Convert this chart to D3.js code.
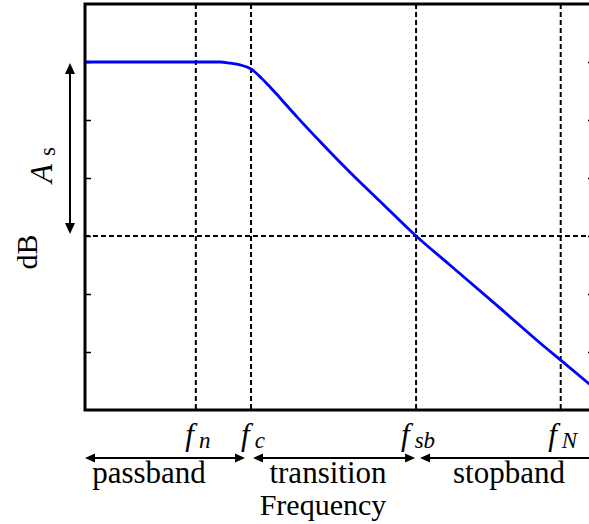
<!DOCTYPE html>
<html>
<head>
<meta charset="utf-8">
<script src="https://cdn.jsdelivr.net/npm/d3@7"></script>
<style>
  html, body { margin: 0; padding: 0; background: #fff; }
  svg { display: block; }
</style>
</head>
<body>
<script>
// Low-pass filter magnitude response (dB) against frequency
const curveFreq = [0, 1, 2, 2.84, 3.05, 3.26, 3.49, 3.70, 3.89, 4.10, 4.46, 4.94, 5.57, 6.20, 6.96, 7.67, 8.72, 9.56, 10.0, 10.57, 10.7];
const curveDb   = [-10, -10, -10, -10, -10.2, -10.5, -11.2, -12.7, -14.3, -16.2, -19.5, -23.7, -29.0, -34.0, -40.0, -45.0, -52.4, -58.4, -61.4, -65.3, -66.2];

// Marked frequencies and their subscripts
const markFreq = [2.33, 3.49, 6.96, 10.0];
const markSub  = ["n", "c", "sb", "N"];

// Levels
const passLevel = -10;
const stopLevel = -40;
const yTicks = [-10, -20, -30, -40, -50, -60];

// Frequency bands
const bandNames = ["passband", "transition", "stopband"];
const bandEdges = [0, 3.49, 6.96, 10.7];

const W = 589, H = 524;
const serif = '"Liberation Serif", "Times New Roman", serif';
const svg = d3.select("body").append("svg")
  .attr("width", W).attr("height", H)
  .style("font-family", serif);

const x = d3.scaleLinear().domain([0, 10.7]).range([85, 594]);
const y = d3.scaleLinear().domain([-70, 0]).range([410, 4]);

// Tick marks on both vertical sides, pointing inward, no labels
svg.append("g").attr("transform", `translate(${x(0)},0)`)
  .call(d3.axisLeft(y).tickValues(yTicks).tickSize(-6).tickFormat(""))
  .call(g => g.select(".domain").remove())
  .call(g => g.selectAll("line").attr("stroke", "#000").attr("stroke-width", 1.5));
svg.append("g").attr("transform", `translate(${x(10.7)},0)`)
  .call(d3.axisRight(y).tickValues(yTicks).tickSize(-6).tickFormat(""))
  .call(g => g.select(".domain").remove())
  .call(g => g.selectAll("line").attr("stroke", "#000").attr("stroke-width", 1.5));

// Dashed guides
const dash = "5,3";
svg.append("g").selectAll("line").data(markFreq).join("line")
  .attr("x1", d => x(d)).attr("x2", d => x(d))
  .attr("y1", y(0)).attr("y2", y(-70))
  .attr("stroke", "#000").attr("stroke-width", 2).attr("stroke-dasharray", dash);
svg.append("line")
  .attr("x1", x(0)).attr("x2", x(10.7))
  .attr("y1", y(stopLevel)).attr("y2", y(stopLevel))
  .attr("stroke", "#000").attr("stroke-width", 2).attr("stroke-dasharray", dash);

// Response curve
const pts = curveFreq.map((f, i) => [f, curveDb[i]]);
svg.append("path").datum(pts)
  .attr("d", d3.line().x(d => x(d[0])).y(d => y(d[1])).curve(d3.curveMonotoneX))
  .attr("fill", "none").attr("stroke", "#0000ff").attr("stroke-width", 2.8)
  .attr("stroke-linejoin", "round");

// Frame (right edge sits just past the visible area)
svg.append("rect")
  .attr("x", x(0)).attr("y", y(0))
  .attr("width", x(10.7) - x(0)).attr("height", y(-70) - y(0))
  .attr("fill", "none").attr("stroke", "#000").attr("stroke-width", 3);

// Double-headed arrow helper
function arrow(g, x1, y1, x2, y2, head = 10, half = 4.5) {
  const ang = Math.atan2(y2 - y1, x2 - x1);
  const cos = Math.cos(ang), sin = Math.sin(ang);
  g.append("line")
    .attr("x1", x1 + cos * head * 0.8).attr("y1", y1 + sin * head * 0.8)
    .attr("x2", x2 - cos * head * 0.8).attr("y2", y2 - sin * head * 0.8)
    .attr("stroke", "#000").attr("stroke-width", 2);
  const tri = (tx, ty, dir) => {
    const bx = tx - dir * cos * head, by = ty - dir * sin * head;
    return [[tx, ty], [bx - sin * half, by + cos * half], [bx + sin * half, by - cos * half]];
  };
  g.append("polygon").attr("points", tri(x2, y2, 1).join(" ")).attr("fill", "#000");
  g.append("polygon").attr("points", tri(x1, y1, -1).join(" ")).attr("fill", "#000");
}

// A_s span arrow on the left
const arrows = svg.append("g");
arrow(arrows, 70, y(passLevel) + 1, 70, y(stopLevel) - 2, 11, 5);

// Band arrows under the axis
const bandY = 458;
const bandStartPad = [0, 2, 4];
const bandEndPad = [6, 1, -10];
bandNames.forEach((b, i) => {
  arrow(arrows, x(bandEdges[i]) + bandStartPad[i], bandY, x(bandEdges[i + 1]) - bandEndPad[i], bandY, 10, 4.5);
});

// Band names
const bandLabelX = [149, 328, 509];
svg.append("g").selectAll("text").data(bandNames).join("text")
  .attr("x", (d, i) => bandLabelX[i]).attr("y", 483)
  .attr("text-anchor", "middle").attr("font-size", 31)
  .text(d => d);
svg.append("text").attr("x", 323).attr("y", 515)
  .attr("text-anchor", "middle").attr("font-size", 30).text("Frequency");

// Frequency marker labels: italic f with italic subscript
const fl = svg.append("g").selectAll("text").data(markFreq).join("text")
  .attr("x", d => x(d) + 2).attr("y", 445)
  .attr("text-anchor", "middle")
  .attr("font-style", "italic");
fl.append("tspan").attr("font-size", 31).text("f");
fl.append("tspan").attr("font-size", 23).attr("dx", 5).attr("dy", 3).text((d, i) => markSub[i]);

// Vertical axis labels
svg.append("text")
  .attr("transform", "translate(37,252) rotate(-90)")
  .attr("text-anchor", "middle").attr("font-size", 30).text("dB");
const as = svg.append("text")
  .attr("transform", "translate(52,165) rotate(-90)")
  .attr("text-anchor", "middle");
as.append("tspan").attr("font-size", 31).attr("font-style", "italic").text("A");
as.append("tspan").attr("font-size", 23).attr("dx", 8).attr("dy", 3).text("s");
</script>
</body>
</html>
